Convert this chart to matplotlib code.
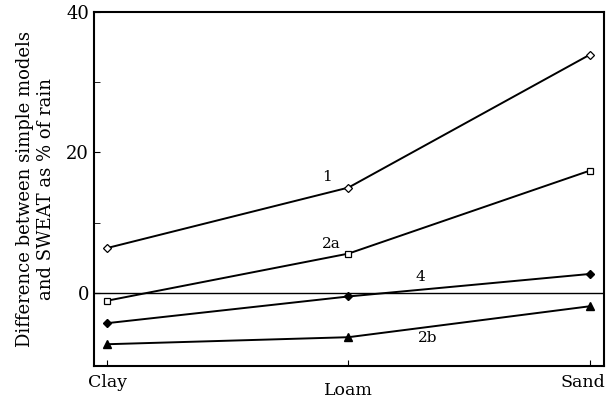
import matplotlib
matplotlib.use("Agg")
import matplotlib.pyplot as plt
from matplotlib.transforms import ScaledTranslation

soils = ["Clay", "Loam", "Sand"]
s1 = [6.4, 15.0, 33.9]
s2a = [-1.1, 5.6, 17.4]
s4 = [-4.3, -0.5, 2.7]
s2b = [-7.3, -6.3, -1.9]

plt.rcParams['font.family'] = ['DejaVu Serif']
fig = plt.figure(figsize=(6.11, 4.05), dpi=100)
ax = fig.add_axes([94/611, 1-366/405, (604-94)/611, (366-12)/405])

x = [0, 1, 2]
lw = 1.4
ax.plot(x, s1, color='black', lw=lw, marker='D', ms=4.5, mfc='white', mec='black', mew=0.9)
ax.plot(x, s2a, color='black', lw=lw, marker='s', ms=5, mfc='white', mec='black', mew=0.9)
ax.plot(x, s4, color='black', lw=lw, marker='D', ms=4, mfc='black', mec='black')
ax.plot(x, s2b, color='black', lw=lw, marker='^', ms=5.5, mfc='black', mec='black')
ax.axhline(0, color='black', lw=1.0)

ax.text(0.91, 16.5, "1", fontsize=11, ha='center', va='center')
ax.text(0.93, 7.0, "2a", fontsize=11, ha='center', va='center')
ax.text(1.3, 2.3, "4", fontsize=11, ha='center', va='center')
ax.text(1.33, -6.4, "2b", fontsize=11, ha='center', va='center')

ax.set_xlim(-0.055, 2.06)
ax.set_ylim(-10.4, 40)
ax.set_yticks([0, 20, 40])
ax.set_yticks([10, 30], minor=True)
ax.tick_params(axis='y', which='both', direction='in', length=4, labelsize=13)
ax.set_xticks(x)
ax.set_xticklabels(soils)
ax.tick_params(axis='x', direction='in', length=4, labelsize=12.5, pad=6)
labs = ax.get_xticklabels()
labs[1].set_transform(labs[1].get_transform() + ScaledTranslation(0, -8/100, fig.dpi_scale_trans))
labs[2].set_transform(labs[2].get_transform() + ScaledTranslation(-7/100, 0, fig.dpi_scale_trans))
ax.set_ylabel("Difference between simple models\nand SWEAT as % of rain", fontsize=13, labelpad=8)
for sp in ax.spines.values():
    sp.set_linewidth(1.5)

fig.savefig("out.png", dpi=100)
